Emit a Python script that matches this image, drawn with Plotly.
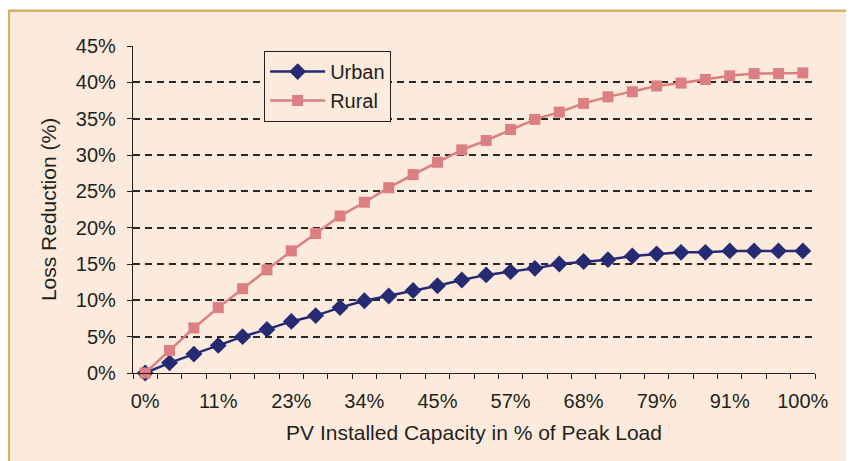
import plotly.graph_objects as go

# capacidad PV instalada (% de la carga pico), una categoría por punto
capacidad = ["0%", "3.8%", "7.5%", "11.3%", "15.1%", "18.9%", "22.6%", "26.4%",
             "30.2%", "34%", "37.7%", "41.5%", "45.3%", "49.1%", "52.8%", "56.6%",
             "60.4%", "64.2%", "67.9%", "71.7%", "75.5%", "79.2%", "83%", "86.8%",
             "90.6%", "94.3%", "98.1%", "100%"]
# etiquetas visibles del eje x (una de cada tres categorías)
etiquetas_x = ["0%", "", "", "11%", "", "", "23%", "", "", "34%", "", "", "45%", "", "",
               "57%", "", "", "68%", "", "", "79%", "", "", "91%", "", "", "100%"]

urbano = [0, 1.4, 2.6, 3.8, 5.0, 6.0, 7.1, 7.9, 9.0, 9.95, 10.6, 11.35, 12.0, 12.8,
          13.5, 13.95, 14.4, 15.0, 15.35, 15.6, 16.1, 16.4, 16.6, 16.6, 16.8, 16.8,
          16.8, 16.8]
rural = [0, 3.1, 6.2, 9.0, 11.6, 14.2, 16.8, 19.2, 21.6, 23.5, 25.5, 27.3, 29.0, 30.7,
         32.0, 33.5, 34.9, 35.9, 37.1, 38.0, 38.7, 39.5, 39.9, 40.4, 40.9, 41.2,
         41.2, 41.3]

fondo = '#FCEBDD'
tinta = '#231F20'
fuente = dict(family='Liberation Sans, Arial, sans-serif', size=20, color=tinta)

figura = go.Figure()
figura.add_trace(go.Scatter(x=capacidad, y=urbano, name='Urban', mode='lines+markers',
                            line=dict(color='#262A73', width=2.5),
                            marker=dict(symbol='diamond', size=13, color='#262A73'),
                            cliponaxis=False))
figura.add_trace(go.Scatter(x=capacidad, y=rural, name='Rural', mode='lines+markers',
                            line=dict(color='#DB7F80', width=2.5),
                            marker=dict(symbol='square', size=11, color='#DB7F80'),
                            cliponaxis=False))

# marco de la figura (solo bordes superior e izquierdo visibles)
figura.add_shape(type='rect', xref='paper', yref='paper',
                 x0=-0.182, x1=1.08, y0=-0.35, y1=1.108,
                 fillcolor=fondo, line=dict(color='#D4B065', width=2.5), layer='below')

# la página añade 8 px de margen, así que la figura es 8 px más pequeña
figura.update_layout(
    width=846, height=453,
    margin=dict(l=125, r=39, t=38, b=88),
    paper_bgcolor='white', plot_bgcolor='rgba(0,0,0,0)',
    font=fuente,
    showlegend=True,
    legend=dict(x=0.192, y=0.985, xanchor='left', yanchor='top',
                bgcolor=fondo, bordercolor=tinta, borderwidth=1.2,
                font=dict(size=20), tracegroupgap=0, itemwidth=55),
    xaxis=dict(type='category', range=[-0.5, 27.5],
               tickmode='array', tickvals=capacidad, ticktext=etiquetas_x,
               tickangle=0, tickfont=dict(size=20), ticklabelstandoff=10,
               tickson='boundaries', ticks='outside', ticklen=5, tickcolor=tinta,
               showline=True, linecolor=tinta, linewidth=1.2, showgrid=False,
               title=dict(text='PV Installed Capacity in % of Peak Load', standoff=14,
                          font=dict(size=21))),
    yaxis=dict(range=[0, 45], dtick=5, ticksuffix='%', ticks='outside', ticklen=5,
               tickfont=dict(size=20), ticklabelstandoff=7,
               tickcolor=tinta, showline=True, linecolor=tinta, linewidth=1.2,
               showgrid=True, gridcolor='#2a2a2a', griddash='7px,5px', gridwidth=1.5,
               zeroline=False,
               title=dict(text='Loss Reduction (%)', standoff=13, font=dict(size=21))),
)

figura.write_html("out.html")
